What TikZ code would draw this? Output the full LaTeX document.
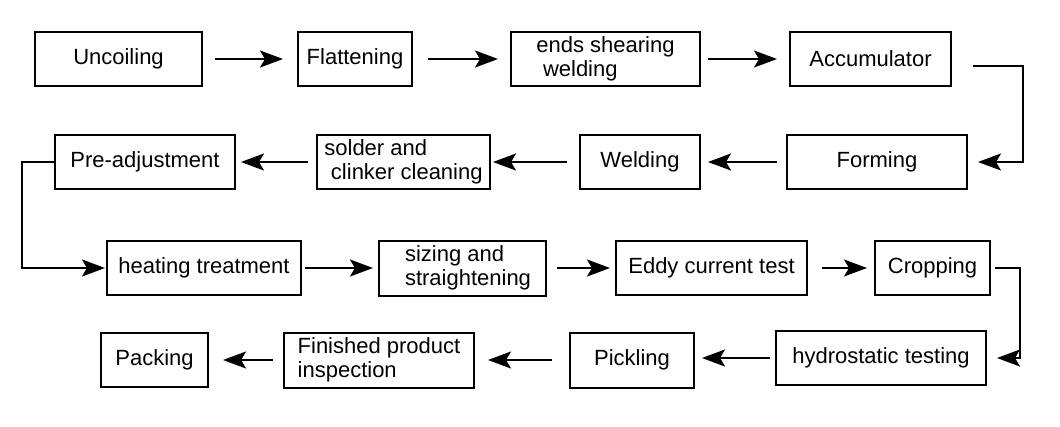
\documentclass[tikz,border=0pt]{standalone}
\usepackage{fontspec}
\setmainfont{Liberation Sans}
\usetikzlibrary{arrows.meta}
\tikzset{
  % process box
  stage/.style={draw=black,line width=2pt,inner sep=0pt,align=left,
    font=\fontsize{22}{24}\selectfont},
  % flow arrow between boxes
  flow/.style={line width=2.2pt,line join=miter,
    -{Stealth[length=23pt,width=17pt,inset=5pt]},
    shorten <=8pt,shorten >=8pt},
}

\begin{document}
\begin{tikzpicture}[x=1pt,y=-1pt]
\useasboundingbox[fill=white] (0,0) rectangle (1060,426);

% row 1
\node[stage,minimum width=167,minimum height=54] (uncoil) at (118.5,59) {Uncoiling};
\node[stage,minimum width=114,minimum height=54] (flat) at (355,59) {Flattening};
\node[stage,minimum width=189,minimum height=54] (shear) at (605.5,59) {ends shearing\\\hspace{0.3em}welding};
\node[stage,minimum width=161,minimum height=54] (accum) at (870.5,59) {Accumulator};

% row 2
\node[stage,minimum width=180,minimum height=54] (preadj) at (145,162) {Pre-adjustment};
\node[stage,minimum width=173,minimum height=54] (solder) at (403.5,162) {solder and\\\hspace{0.3em}clinker cleaning};
\node[stage,minimum width=120,minimum height=54] (weld) at (640,162) {Welding};
\node[stage,minimum width=180,minimum height=54] (forming) at (877,162) {Forming};

% row 3
\node[stage,minimum width=194,minimum height=54] (heat) at (204,268) {heating treatment};
\node[stage,minimum width=167,minimum height=55] (sizing) at (462.5,268) {\hspace{0.5em}sizing and\\\hspace{0.5em}straightening};
\node[stage,minimum width=191,minimum height=54] (eddy) at (711.5,268) {Eddy current test};
\node[stage,minimum width=115,minimum height=54] (crop) at (932.5,268) {Cropping};

% row 4
\node[stage,minimum width=107,minimum height=54] (pack) at (154.5,360) {Packing};
\node[stage,minimum width=190,minimum height=55] (finish) at (379,360) {Finished product\\inspection};
\node[stage,minimum width=124,minimum height=55] (pick) at (632,360) {Pickling};
\node[stage,minimum width=210,minimum height=54] (hydro) at (881,358) {hydrostatic testing};

\draw[flow,shorten <=12pt,shorten >=14pt] (uncoil) -- (flat);
\draw[flow,shorten <=15pt,shorten >=12pt] (flat) -- (shear);
\draw[flow,shorten <=7pt,shorten >=12pt] (shear) -- (accum);
\draw[flow,shorten <=21pt,shorten >=10pt] ([yshift=-7pt]accum.east) -| ([xshift=55pt]forming.east) -- (forming.east);

\draw[flow,shorten <=9pt,shorten >=7pt] (forming) -- (weld);
\draw[flow,shorten <=12pt,shorten >=2pt] (weld) -- (solder);
\draw[flow,shorten <=8pt,shorten >=5pt] (solder) -- (preadj);
\draw[flow,shorten <=0pt,shorten >=1pt] (preadj.west) -- ++(-32,0) |- (heat.west);

\draw[flow,shorten <=3pt,shorten >=5pt] (heat) -- (sizing);
\draw[flow,shorten <=10pt,shorten >=5pt] (sizing) -- (eddy);
\draw[flow,shorten <=14pt,shorten >=7pt] (eddy) -- (crop);
\draw[flow,shorten <=4pt,shorten >=10pt] (crop.east) -- ++(29,0) |- (hydro.east);

\draw[flow,shorten <=5pt,shorten >=7pt] (hydro.west) -- (hydro.west -| pick.east);
\draw[flow,shorten <=17pt,shorten >=13pt] (pick) -- (finish);
\draw[flow,shorten <=10pt,shorten >=14pt] (finish) -- (pack);

\end{tikzpicture}
\end{document}
